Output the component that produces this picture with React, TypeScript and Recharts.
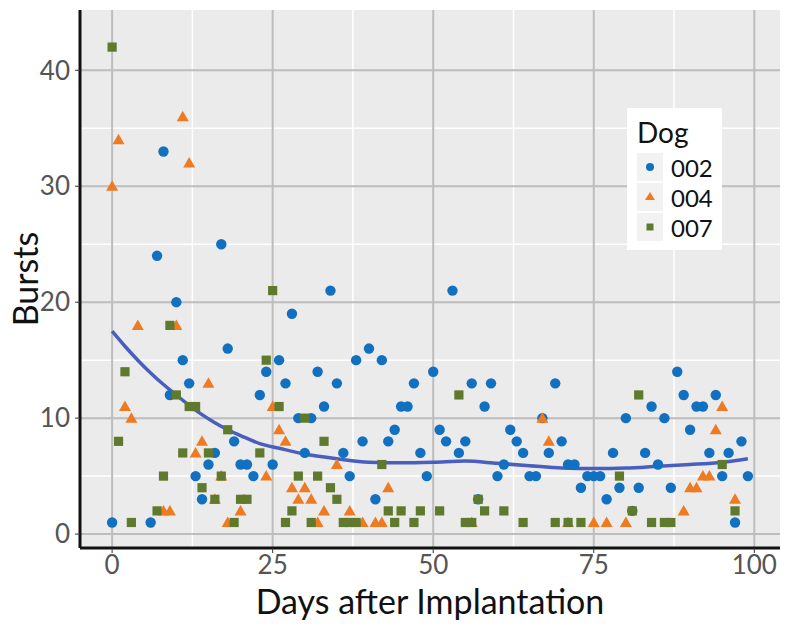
import React from 'react'
import { ComposedChart, Scatter, Line, XAxis, YAxis, CartesianGrid } from 'recharts'

// [day, bursts]
const dog002: [number, number][] = [
  [8, 33], [7, 24], [17, 25], [10, 20], [18, 16], [11, 15], [12, 13], [9, 12], [23, 12], [19, 8],
  [16, 7], [15, 6], [20, 6], [21, 6], [13, 5], [22, 5], [14, 3], [0, 1], [6, 1], [34, 21],
  [28, 19], [40, 16], [26, 15], [38, 15], [42, 15], [24, 14], [32, 14], [50, 14], [27, 13], [35, 13],
  [47, 13], [33, 11], [45, 11], [46, 11], [29, 10], [31, 10], [44, 9], [39, 8], [43, 8], [30, 7],
  [36, 7], [48, 7], [25, 6], [37, 5], [49, 5], [41, 3], [53, 21], [56, 13], [59, 13], [69, 13],
  [58, 11], [67, 10], [51, 9], [62, 9], [52, 8], [55, 8], [63, 8], [70, 8], [54, 7], [64, 7],
  [68, 7], [61, 6], [71, 6], [72, 6], [60, 5], [65, 5], [66, 5], [74, 5], [75, 5], [76, 5],
  [73, 4], [57, 3], [88, 14], [89, 12], [94, 12], [84, 11], [91, 11], [92, 11], [80, 10], [86, 10],
  [90, 9], [98, 8], [78, 7], [83, 7], [93, 7], [96, 7], [85, 6], [95, 5], [99, 5], [79, 4],
  [82, 4], [87, 4], [77, 3], [81, 2], [97, 1],
]

const dog004: [number, number][] = [
  [11, 36], [1, 34], [12, 32], [0, 30], [4, 18], [10, 18], [15, 13], [2, 11], [3, 10], [14, 8],
  [13, 7], [17, 5], [16, 3], [8, 2], [9, 2], [20, 2], [18, 1], [25, 11], [26, 9], [27, 8],
  [35, 6], [24, 5], [28, 4], [30, 4], [43, 4], [29, 3], [31, 3], [33, 2], [37, 2], [32, 1],
  [39, 1], [41, 1], [42, 1], [67, 10], [68, 8], [56, 1], [71, 1], [75, 1], [95, 11], [94, 9],
  [92, 5], [93, 5], [90, 4], [91, 4], [97, 3], [89, 2], [77, 1], [80, 1],
]

const dog007: [number, number][] = [
  [0, 42], [9, 18], [2, 14], [12, 11], [13, 11], [10, 12], [18, 9], [1, 8], [11, 7], [15, 7],
  [23, 7], [8, 5], [17, 5], [14, 4], [16, 3], [20, 3], [21, 3], [7, 2], [3, 1], [19, 1],
  [25, 21], [24, 15], [26, 11], [30, 10], [33, 8], [42, 6], [29, 5], [32, 5], [34, 4], [35, 3],
  [28, 2], [43, 2], [45, 2], [48, 2], [27, 1], [31, 1], [36, 1], [37, 1], [38, 1], [44, 1],
  [47, 1], [54, 12], [57, 3], [51, 2], [58, 2], [61, 2], [55, 1], [56, 1], [64, 1], [69, 1],
  [71, 1], [73, 1], [82, 12], [95, 6], [79, 5], [81, 2], [97, 2], [84, 1], [86, 1], [87, 1],
]

// smoothed trend
const smoothDays = [0, 2, 4, 6, 8, 10, 12, 14, 16, 18, 20, 23, 26, 30, 35, 40, 45, 50, 55, 60, 65, 70, 75, 80, 85, 90, 95, 99]
const smoothBursts = [17.5, 16.2, 15, 13.9, 12.9, 12, 11.1, 10.3, 9.6, 9.0, 8.5, 7.8, 7.4, 6.9, 6.5, 6.2, 6.15, 6.2, 6.3, 6.1, 5.9, 5.7, 5.65, 5.7, 5.85, 6.0, 6.2, 6.5]

const xTicks = [0, 25, 50, 75, 100]
const yTicks = [0, 10, 20, 30, 40]
const xMinor = [12.5, 37.5, 62.5, 87.5]
const yMinor = [5, 15, 25, 35]

const BLUE = '#1170c0'
const ORANGE = '#ee7b22'
const GREEN = '#5f7a2c'
const LINE = '#4a5fbd'
const FONT = 'Lato, "Open Sans", sans-serif'

const toPoints = (rows: [number, number][]) => rows.map(([day, bursts]) => ({ day, bursts }))
const smoothData = smoothDays.map((day, i) => ({ day, bursts: smoothBursts[i] }))

const Circle = (p: any) => <circle cx={p.cx} cy={p.cy} r={5.2} fill={BLUE} />
const Triangle = (p: any) => {
  const s = 6
  return <polygon points={`${p.cx},${p.cy - s} ${p.cx - s},${p.cy + s * 0.75} ${p.cx + s},${p.cy + s * 0.75}`} fill={ORANGE} />
}
const Square = (p: any) => <rect x={p.cx - 4.6} y={p.cy - 4.6} width={9.2} height={9.2} fill={GREEN} />

const legendRows = [
  { label: '002', kind: 'circle' },
  { label: '004', kind: 'triangle' },
  { label: '007', kind: 'square' },
]

function LegendBox() {
  return (
    <div style={{ position: 'absolute', left: 627, top: 108, background: '#fff', width: 95, padding: '6px 0 8px 10px', boxSizing: 'border-box', fontFamily: FONT }}>
      <div style={{ fontSize: 28, lineHeight: '36px', color: '#111', marginBottom: 2 }}>Dog</div>
      {legendRows.map((r) => (
        <div key={r.label} style={{ display: 'flex', alignItems: 'center', height: 30 }}>
          <svg width={26} height={28} style={{ background: '#f2f2f2' }}>
            {r.kind === 'circle' && <circle cx={13} cy={14} r={4} fill={BLUE} />}
            {r.kind === 'triangle' && <polygon points="13,9 8,17 18,17" fill={ORANGE} />}
            {r.kind === 'square' && <rect x={9.5} y={10.5} width={7} height={7} fill={GREEN} />}
          </svg>
          <span style={{ fontSize: 24, color: '#111', marginLeft: 8 }}>{r.label}</span>
        </div>
      ))}
    </div>
  )
}

export default function App() {
  return (
    <div style={{ position: 'absolute', left: 0, top: 0, width: 800, height: 627, background: '#fff' }}>
      <ComposedChart width={800} height={627} margin={{ top: 10, right: 20, bottom: 9, left: 0 }}>
        <CartesianGrid fill="#ebebeb" stroke="#ffffff" strokeWidth={1.5} horizontalValues={yMinor} verticalValues={xMinor} />
        <CartesianGrid stroke="#bdbdbd" strokeWidth={2} horizontalValues={yTicks} verticalValues={xTicks} />
        <XAxis
          type="number"
          dataKey="day"
          domain={[-5, 104]}
          ticks={xTicks}
          allowDataOverflow
          height={70}
          axisLine={{ stroke: '#111', strokeWidth: 3 }}
          tickLine={{ stroke: '#333' }}
          tickSize={5}
          tickMargin={3}
          tick={{ fontSize: 26, fill: '#555', fontFamily: FONT }}
          label={{ value: 'Days after Implantation', position: 'insideBottom', offset: 4, fontSize: 34, fill: '#111', fontFamily: FONT }}
        />
        <YAxis
          type="number"
          dataKey="bursts"
          domain={[-1.2, 45.2]}
          ticks={yTicks}
          allowDataOverflow
          width={80}
          axisLine={{ stroke: '#111', strokeWidth: 3 }}
          tickLine={{ stroke: '#333' }}
          tickSize={5}
          tickMargin={5}
          tick={{ fontSize: 26, fill: '#555', fontFamily: FONT }}
          label={{
            content: ({ viewBox }: any) => (
              <text
                x={viewBox.x + 24}
                y={viewBox.y + viewBox.height / 2}
                transform={`rotate(-90 ${viewBox.x + 24} ${viewBox.y + viewBox.height / 2})`}
                textAnchor="middle"
                dominantBaseline="central"
                fontSize={34}
                fill="#111"
                fontFamily={FONT}
              >
                Bursts
              </text>
            ),
          }}
        />
        <Scatter name="002" data={toPoints(dog002)} shape={Circle} isAnimationActive={false} />
        <Scatter name="004" data={toPoints(dog004)} shape={Triangle} isAnimationActive={false} />
        <Scatter name="007" data={toPoints(dog007)} shape={Square} isAnimationActive={false} />
        <Line data={smoothData} dataKey="bursts" type="monotone" stroke={LINE} strokeWidth={3.5} dot={false} isAnimationActive={false} />
      </ComposedChart>
      <LegendBox />
    </div>
  )
}
